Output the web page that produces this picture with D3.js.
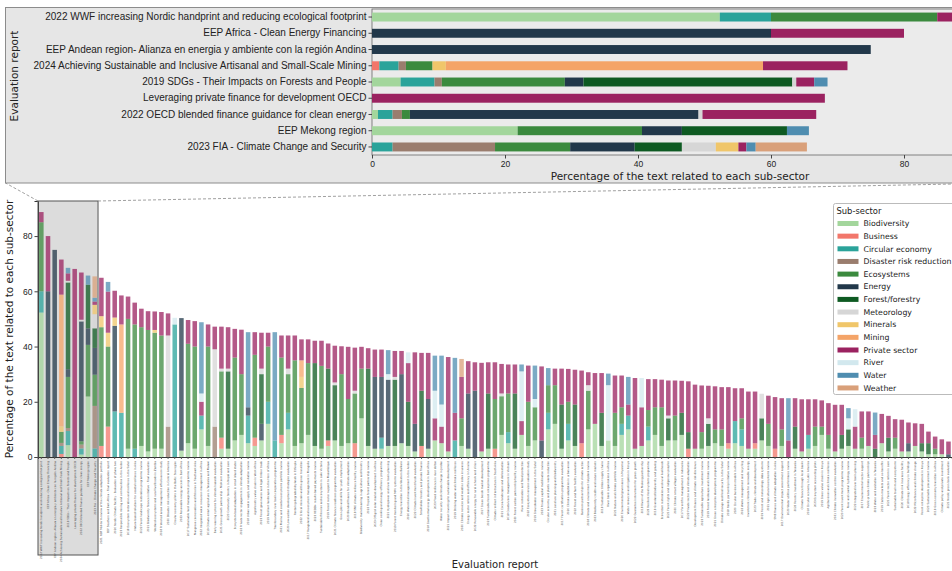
<!DOCTYPE html>
<html>
<head>
<meta charset="utf-8">
<script src="https://cdn.jsdelivr.net/npm/d3@7"></script>
<style>
  body { margin: 0; background: #fff; }
  svg { display: block; font-family: "DejaVu Sans", sans-serif; }
</style>
</head>
<body>
<svg id="chart" width="952" height="571"></svg>
<script>
const subSectors = ["Biodiversity", "Business", "Circular economy", "Disaster risk reduction", "Ecosystems",
  "Energy", "Forest/forestry", "Meteorology", "Minerals", "Mining", "Private sector", "River", "Water", "Weather"];
const sectorKeys = ["bd", "bu", "ce", "dr", "ec", "en", "ff", "me", "mi", "mn", "ps", "ri", "wa", "we"];
const sectorColors = ["#a3d69c", "#f2776b", "#2aa39a", "#9a7d6e", "#3b8a3e", "#22384a", "#0e5a22",
  "#d6d6d6", "#f0c66a", "#f4a468", "#9b2260", "#d2e8ee", "#4f8db0", "#d9a07a"];

const reportNames = [
  "2022 WWF increasing Nordic handprint and reducing ecological footprint",
  "EEP Africa - Clean Energy Financing",
  "EEP Andean region- Alianza en energia y ambiente con la región Andina",
  "2024 Achieving Sustainable and Inclusive Artisanal and Small-Scale Mining",
  "2019 SDGs - Their Impacts on Forests and People",
  "Leveraging private finance for development OECD",
  "2022 OECD blended finance guidance for clean energy",
  "EEP Mekong region",
  "2023 FIA - Climate Change and Security",
  "2021 NDF Mid-term review of the climate adaptation portfolio",
  "EEP Southern and East Africa - Final evaluation report",
  "2020 Nordic Climate Facility - Evaluation of phase two",
  "2023 Responsible mining and communities in the Andes",
  "2019 Ecosystem restoration and resilience in the Sahel",
  "Nature-based solutions for coastal resilience in Asia",
  "2022 Forest landscape restoration programme review",
  "2021 Biodiversity finance initiative - Final evaluation",
  "Wetland ecosystems and rural livelihoods in Zambia",
  "2018 Protected areas management effectiveness study",
  "2020 Disaster risk reduction in Central America",
  "Circular economy pilots in the Baltic Sea region",
  "2023 Renewable energy access in East Africa",
  "2017 Sustainable land management programme review",
  "Mangrove conservation and fisheries in Southeast Asia",
  "2022 Integrated water resources management in Africa",
  "2019 Climate-smart agriculture in Tanzania and Malawi",
  "Early warning systems for climate hazards evaluation",
  "2021 Green growth partnership - Mid-term evaluation",
  "2020 Community forestry in Nepal and Laos",
  "Ecosystem-based adaptation in small island states",
  "2022 Private sector engagement in climate adaptation",
  "2018 Urban water supply and sanitation review",
  "Agroforestry value chains in West Africa",
  "2023 Forest governance and legal timber trade",
  "2019 Resilient landscapes in the Horn of Africa",
  "Transboundary river basin cooperation programme",
  "2021 Marine and coastal ecosystems portfolio review",
  "2020 Low-carbon development strategies evaluation",
  "Restoring degraded drylands in Ethiopia",
  "2022 Critical minerals and the green transition",
  "2017 Rangeland and ecosystem management in Mongolia",
  "2023 REDD+ results-based payments review",
  "Sustainable fisheries and ecosystems in Lake Victoria",
  "2019 Forest sector support to Mozambique",
  "2021 Climate finance readiness programme evaluation",
  "Green jobs and skills for youth employment",
  "2020 Blended finance for climate adaptation",
  "2018 SME climate resilience facility review",
  "Biodiversity mainstreaming in agriculture and forestry",
  "2022 Tropical forest partnership review",
  "2023 Off-grid solar market development in Africa",
  "Clean cooking and energy efficiency programme",
  "2021 Hydropower and river basin planning",
  "2019 Forest monitoring and MRV systems evaluation",
  "Energy transition in the Western Balkans",
  "2020 Watershed management in the Andes",
  "2022 Climate investment funds evaluation",
  "Smallholder forestry and private finance",
  "2018 Geothermal energy development in East Africa",
  "2023 Flood resilience in river deltas",
  "Water security and climate change in Jordan",
  "2021 Impact investing for sustainable development",
  "2019 Drinking water and climate resilience",
  "2020 Climate services and weather index insurance",
  "Energy sector reform and efficiency in Ukraine",
  "2022 Renewable energy for rural schools and clinics",
  "2017 Green bonds market development",
  "2023 Sustainable forest enterprises programme",
  "Climate resilient infrastructure in South Asia",
  "2021 Cocoa landscapes and deforestation",
  "2018 Coastal zone management in Vietnam",
  "2020 Forest carbon partnership facility review",
  "River restoration and flood protection",
  "2022 Ecosystem services valuation study",
  "2019 Groundwater management in the Sahel",
  "2023 Private capital mobilisation review",
  "Circular economy and plastic waste reduction",
  "2021 Land use planning and biodiversity",
  "2017 Forest certification programme evaluation",
  "2020 Climate adaptation in urban areas",
  "2022 Forest and farm facility evaluation",
  "Business partnerships for climate action",
  "2018 Climate and environment helpdesk review",
  "2023 Biodiversity credits and nature markets",
  "2019 Sustainable timber supply chains",
  "River basin organisations in Africa",
  "2021 Nature and climate portfolio review",
  "2020 Environmental governance in Myanmar",
  "Water resources and irrigation in Kenya",
  "2022 Guarantee instruments for green growth",
  "2018 Rivers of the Mekong partnership",
  "2023 Resilient food systems programme",
  "2019 Grassland biodiversity and grazing",
  "Ecosystem restoration and rural livelihoods",
  "2021 Forest rights and indigenous peoples",
  "2020 Climate smart villages evaluation",
  "2017 Forest fire management in Indonesia",
  "2022 Private sector and climate adaptation",
  "Development finance and climate risk disclosure",
  "2023 Sustainable agriculture investment review",
  "2019 Forest landscape and climate review",
  "2021 Green enterprise development programme",
  "Climate change and food security in the Sahel",
  "2018 Nordic partnership initiative review",
  "2020 Circular business models in Africa",
  "2022 Waste management and recycling",
  "Investment climate for renewable energy",
  "2023 Trade, climate and development",
  "2019 Forest and meteorology data systems",
  "2021 Agricultural ecosystems review",
  "SME finance and climate adaptation in Asia",
  "2017 Environmental impact assessment support",
  "2020 Water utilities performance review",
  "2022 Forestry investment in Tanzania",
  "Climate finance through local banks",
  "2018 Circular economy in Latin America",
  "2023 Ecosystem accounting pilots",
  "2019 Green value chains in Kenya",
  "Agribusiness and climate resilience",
  "2021 Climate innovation centres evaluation",
  "2020 Forest investment programme review",
  "River and coastal hydrology review",
  "2022 Integrated river basin planning",
  "2017 Environmental sector support",
  "Public-private climate partnerships",
  "2023 Water and sanitation in Tanzania",
  "2019 Carbon markets and co-benefits",
  "2021 Forest sector reform in Laos",
  "Sustainable tourism and ecosystems",
  "2020 Climate risk insurance facility",
  "2018 Energy efficiency in buildings",
  "2022 Microfinance and climate change",
  "Forest enterprise development in Kenya",
  "2023 Sustainable procurement review",
  "2019 Green economy transition in Africa",
  "Climate policy and private investment",
  "2021 Nordic green bank evaluation"
];

// percentage of text per sub-sector, one string per report (key:value)
const reportMix = [
  "bd:52.3 ce:7.7 ec:25 ps:3.7",
  "en:60 ps:20",
  "en:75",
  "bu:1.1 ce:2.9 dr:1.1 ec:4 mi:2 mn:47.7 ps:12.7",
  "bd:4.3 ce:5.1 dr:1.1 ec:18.5 en:2.8 ff:31.4 me:0.6 ps:2.7 wa:2",
  "ps:68.1",
  "bd:0.9 ce:2.2 dr:1.4 ec:1.2 en:43.4 me:0.6 ps:17.1",
  "bd:21.9 ec:18.7 en:6 ff:15.8 wa:3.3",
  "ce:3.1 dr:15.4 ec:11.3 en:9.7 ff:7.1 me:5.1 mi:3.4 ps:1.2 wa:1.4 we:7.7",
  "bu:4 ec:43 mi:4 ps:13.9",
  "bu:11 ec:29 mi:5 ps:14.9 wa:3.5",
  "ce:16.5 en:31 mi:3 ps:9.7",
  "ce:16 mn:32 ps:10.5",
  "bd:3 ec:47 ps:8.1",
  "ce:3 ec:45 ps:7.9",
  "bd:4 ec:43 ps:6.7",
  "bd:2 ec:44 ps:6.8",
  "bd:3 ec:42 mi:1 ps:6.7",
  "bd:3 ec:41 ps:8.5",
  "dr:11 me:33 ps:8",
  "ce:48 ri:2.4",
  "bd:2.3 en:48",
  "bd:5 ec:36 ps:8.6",
  "bd:3 ec:37 ps:9.2",
  "bd:10 ce:5 ps:5 ri:3 wa:25.8",
  "bd:4 ec:36 ps:8",
  "dr:11 me:28 ps:8.2",
  "bd:3 bu:4 ec:24 me:1 ps:15.2",
  "bd:3 ff:28 me:1 ps:15",
  "bd:6 ec:30 ps:10.4",
  "bd:8 ec:22 ps:16.1",
  "bd:5 ce:10 en:3 wa:27.2",
  "bd:4 bu:3 ec:30 ps:8.2",
  "bd:6 en:6 ff:18 me:2 ps:13",
  "bd:12 ce:8 ec:20 ps:5",
  "ce:6 wa:39.2",
  "bd:5 bu:3 ec:28 ps:8",
  "bd:10 ce:6 ec:14 me:2 ps:12",
  "bd:4 ec:31 ps:9",
  "bd:5 ec:20 mi:4 mn:6 ps:7.6",
  "bd:8 ec:26 ps:8.6",
  "bd:4 ff:30 ps:8.1",
  "bd:3 ec:30 ps:9.1",
  "bd:4 bu:2 ff:26 ps:9.1",
  "bd:6 ff:20 me:1 ps:13.3",
  "bd:4 ec:26 ps:10.1",
  "bd:5 ec:16 ps:18.9",
  "bu:5 ec:18 me:1 ps:15.6",
  "bd:14 ec:18 ps:7.9",
  "bd:4 ff:28 ps:7.4",
  "bd:3 en:26 ps:9.9",
  "bd:3 ce:4 en:22 ps:9.9",
  "bd:4 en:24 ri:2 wa:8.7",
  "bd:4 ff:24 me:1 ps:9.4",
  "bd:5 en:25 ps:8.4",
  "bd:4 ff:16 ps:14 ri:3.9",
  "bd:2 en:10 ps:25.9",
  "bu:4 ff:20 ps:13.7",
  "bd:3 en:18 ps:16.7",
  "bd:6 ps:8 ri:10 wa:12.7",
  "bd:5 ps:6 ri:8 wa:17.7",
  "bd:2 ps:34.2",
  "ce:6 ps:10 wa:19.9",
  "bd:4 ec:10 ps:15 we:6.5",
  "bd:3 en:20 ps:11.7",
  "en:24 ps:10.3",
  "bd:2 ps:32.1",
  "bd:3 ff:20 ps:11.3",
  "bu:3 ec:18 ps:13.3",
  "bd:8 ec:14 me:1 ps:10.7",
  "bd:5 ce:4 ec:14 ps:10.5",
  "bd:3 ff:20 ps:10.5",
  "bd:8 ps:5 ri:18 wa:2.5",
  "bd:4 ec:16 ps:13.1",
  "bd:6 ec:12 ri:3 wa:12.1",
  "en:6 ps:26.8",
  "bd:10 ce:6 ec:10 wa:6.2",
  "bd:12 ec:14 ps:6",
  "bd:3 ff:16 ps:13",
  "bd:6 ce:6 ec:8 ps:11.9",
  "bd:4 ff:15 ps:12.6",
  "bu:5 ps:26.3",
  "bd:10 ec:14 me:2 ps:4.7",
  "bd:12 ps:18.4",
  "bd:4 ff:12 ps:14.4",
  "bd:6 ri:20 wa:4.2",
  "bd:4 ec:12 ps:13.5",
  "bd:8 ce:4 ec:6 ps:11.5",
  "bd:10 ce:5 ps:4 wa:10",
  "bd:3 ps:25.6",
  "bd:4 ps:14 ri:10.6",
  "bd:6 ce:5 ec:6 ps:11.2",
  "bd:8 ec:10 ps:10.2",
  "bd:4 ec:14 ps:10",
  "bd:6 ff:8 me:1 ps:12.7",
  "bd:6 ec:9 ps:12.7",
  "bd:8 ff:8 ps:11.6",
  "bu:3 ff:6 ps:18.4",
  "bd:3 ps:23.2",
  "bd:3 ec:6 ps:16.9",
  "bd:4 ff:8 me:2 ps:11.8",
  "bd:5 ec:5 ps:15.6",
  "bd:4 ec:6 ps:15.3",
  "bd:3 bu:2 ps:20.3",
  "bd:5 ce:8 ps:11.9",
  "bd:4 ce:6 ec:4 ps:10.9",
  "bd:3 ps:20.7",
  "bd:3 bu:2 ps:18.7",
  "bd:6 ff:8 me:8.9",
  "bd:4 ec:8 ps:10.2",
  "bu:3 ps:18.7",
  "bd:4 ec:6 ps:11.3",
  "ps:6 wa:15.3",
  "bd:3 ff:8 ps:10.3",
  "bd:2 ps:18.9",
  "bd:3 ce:5 ps:12.9",
  "bd:4 ec:7 ps:9.9",
  "bd:8 ec:3 ps:9.5",
  "bd:3 ec:5 ps:11.5",
  "bd:2 ps:16.9",
  "bd:3 ff:5 ps:10.9",
  "bd:4 ff:6 ri:4 wa:3.7",
  "bd:3 ps:8 ri:6.3",
  "bd:3 ec:4 ps:9.5",
  "bd:4 ps:12.5",
  "ff:3 ps:5 wa:8.1",
  "bd:5 ps:10.6",
  "bd:2 ff:5 ps:7.9",
  "bd:3 ec:4 ps:6.7",
  "bd:2 ps:11.5",
  "bd:2 en:3 ps:7.5",
  "bd:4 ps:8.2",
  "bd:2 ff:3 ps:7",
  "bd:1 ff:4 ps:4.2",
  "bd:1 ec:2 ps:4.4",
  "bd:1 ps:5.4",
  "en:1 ps:4.6"
];

const insetCount = 9;
const yTicks = [0, 20, 40, 60, 80];
const insetTicks = [0, 20, 40, 60, 80];

// build table rows for d3.stack
const rows = reportNames.map((name, i) => {
  const row = { report: name };
  sectorKeys.forEach(k => row[k] = 0);
  reportMix[i].split(" ").forEach(part => {
    const [k, v] = part.split(":");
    row[k] = +v;
  });
  return row;
});
const series = d3.stack().keys(sectorKeys)(rows);
const colour = d3.scaleOrdinal().domain(sectorKeys).range(sectorColors);

const svg = d3.select("#chart");

// ---------- inset (top) ----------
svg.append("rect")
   .attr("x", 5.5).attr("y", 7.5)
   .attr("width", 1000).attr("height", 175.5)
   .attr("fill", "#e6e6e6")
   .attr("stroke", "#8c8c8c");

const ix = d3.scaleLinear().domain([0, 92]).range([372, 372 + 92 * 6.65]);
const iy = d3.scaleBand()
             .domain(reportNames.slice(0, insetCount))
             .range([9, 155])
             .paddingInner(0.45)
             .paddingOuter(0.22);

svg.append("rect")
   .attr("x", 372).attr("y", 9)
   .attr("width", 640).attr("height", 146)
   .attr("fill", "#ebebeb")
   .attr("stroke", "#666")
   .attr("stroke-width", 0.8);

const inset = svg.append("g");
series.forEach(s => {
  inset.selectAll(null)
       .data(s.slice(0, insetCount).filter(d => d[1] - d[0] > 0))
       .enter()
       .append("rect")
         .attr("x", d => ix(d[0]))
         .attr("y", d => iy(d.data.report))
         .attr("width", d => ix(d[1]) - ix(d[0]))
         .attr("height", iy.bandwidth())
         .attr("fill", colour(s.key));
});

const iyAxis = svg.append("g")
   .attr("transform", "translate(372,0)")
   .call(d3.axisLeft(iy).tickSize(3.5).tickPadding(2));
iyAxis.select(".domain").remove();
iyAxis.selectAll("text").style("font-size", "10px").attr("fill", "#222");
iyAxis.selectAll("line").attr("stroke", "#444");

const ixAxis = svg.append("g")
   .attr("transform", "translate(0,155)")
   .call(d3.axisBottom(ix).tickValues(insetTicks).tickSize(3.5).tickPadding(2));
ixAxis.select(".domain").remove();
ixAxis.selectAll("text").style("font-size", "8.5px").attr("fill", "#222");
ixAxis.selectAll("line").attr("stroke", "#444");

svg.append("text")
   .attr("x", 680).attr("y", 179.5)
   .attr("text-anchor", "middle")
   .style("font-size", "10.5px")
   .attr("fill", "#222")
   .text("Percentage of the text related to each sub-sector");

svg.append("text")
   .attr("transform", "translate(18,76)rotate(-90)")
   .attr("text-anchor", "middle")
   .style("font-size", "10.5px")
   .attr("fill", "#222")
   .text("Evaluation report");

// ---------- main chart (bottom) ----------
const x = d3.scaleBand()
            .domain(reportNames)
            .range([38, 951.8])
            .paddingInner(0.32)
            .paddingOuter(0.16);
const y = d3.scaleLinear().domain([0, 92.7]).range([457, 201]);

const boxW = x.step() * insetCount;

// inset indicator box (fill behind the bars)
svg.append("rect")
   .attr("x", 38).attr("y", 201)
   .attr("width", boxW).attr("height", 354)
   .attr("fill", "#dcdcdc");

const main = svg.append("g");
series.forEach(s => {
  main.selectAll(null)
      .data(s.filter(d => d[1] - d[0] > 0))
      .enter()
      .append("rect")
        .attr("x", d => x(d.data.report))
        .attr("y", d => y(d[1]))
        .attr("width", x.bandwidth())
        .attr("height", d => y(d[0]) - y(d[1]))
        .attr("fill", colour(s.key))
        .attr("opacity", 0.75);
});

const xAxis = svg.append("g")
   .attr("transform", "translate(0,457)")
   .call(d3.axisBottom(x).tickSize(2).tickFormat(""));
xAxis.select(".domain").attr("stroke", "#333");
xAxis.selectAll("line").attr("stroke", "#555");

// rotated report names under each bar
svg.append("g")
   .selectAll("text")
   .data(reportNames)
   .join("text")
     .attr("transform", d => `translate(${x(d) + x.bandwidth() / 2},461)rotate(-90)`)
     .attr("text-anchor", "end")
     .attr("dy", "0.35em")
     .style("font-size", "2.7px")
     .attr("fill", "#444")
     .text(d => d);

const yAxis = svg.append("g")
   .attr("transform", "translate(38,0)")
   .call(d3.axisLeft(y).tickValues(yTicks).tickSize(3.5).tickPadding(2));
yAxis.select(".domain").attr("stroke", "#333");
yAxis.selectAll("line").attr("stroke", "#444");
yAxis.selectAll("text").style("font-size", "8.5px").attr("fill", "#222");

svg.append("text")
   .attr("transform", "translate(13,329)rotate(-90)")
   .attr("text-anchor", "middle")
   .style("font-size", "10.5px")
   .attr("fill", "#222")
   .text("Percentage of the text related to each sub-sector");

svg.append("text")
   .attr("x", 495).attr("y", 568)
   .attr("text-anchor", "middle")
   .style("font-size", "10px")
   .attr("fill", "#222")
   .text("Evaluation report");

// box outline and connector lines
svg.append("rect")
   .attr("x", 38).attr("y", 201)
   .attr("width", boxW).attr("height", 354)
   .attr("fill", "none")
   .attr("stroke", "#555")
   .attr("stroke-width", 1);

svg.append("line")
   .attr("x1", 38).attr("y1", 201).attr("x2", 5.5).attr("y2", 183)
   .attr("stroke", "#888").attr("stroke-dasharray", "3,2").attr("stroke-width", 0.8);
svg.append("line")
   .attr("x1", 38 + boxW).attr("y1", 201).attr("x2", 1005).attr("y2", 183)
   .attr("stroke", "#888").attr("stroke-dasharray", "3,2").attr("stroke-width", 0.8);

// ---------- legend ----------
const legend = svg.append("g").attr("transform", "translate(833.5,203.5)");
legend.append("rect")
      .attr("width", 140).attr("height", 191)
      .attr("rx", 2)
      .attr("fill", "#fff")
      .attr("stroke", "#bbb");
legend.append("text")
      .attr("x", 3).attr("y", 10)
      .style("font-size", "8.4px")
      .attr("fill", "#222")
      .text("Sub-sector");
subSectors.forEach((name, i) => {
  const g = legend.append("g").attr("transform", `translate(4,${20 + i * 12.65})`);
  g.append("rect").attr("width", 21).attr("height", 5).attr("y", -2.5).attr("fill", sectorColors[i]);
  g.append("text")
   .attr("x", 26).attr("y", 0).attr("dy", "0.35em")
   .style("font-size", "7.8px")
   .attr("fill", "#222")
   .text(name);
});
</script>
</body>
</html>
